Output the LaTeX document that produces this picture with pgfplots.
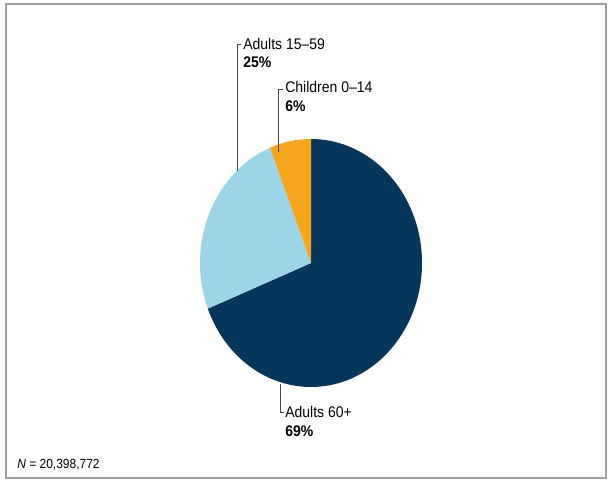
\documentclass[border=0pt]{standalone}
\usepackage{pgfplots}
\usepackage{pgfplotstable}
\pgfplotsset{compat=1.18}
\usepackage{fontspec}
\setmainfont{Liberation Sans}
\definecolor{navy}{RGB}{6,54,90}
\definecolor{lblue}{RGB}{157,212,232}
\definecolor{orng}{RGB}{245,166,30}
\definecolor{lead}{RGB}{70,70,70}
\pgfplotstableread{
label value
A60 69
A15 25
C0 6
}\piedata
\pgfplotstablegetelem{0}{value}\of\piedata \let\vA\pgfplotsretval
\pgfplotstablegetelem{1}{value}\of\piedata \let\vB\pgfplotsretval
\pgfplotstablegetelem{2}{value}\of\piedata \let\vC\pgfplotsretval
\pgfmathsetmacro\aA{90-3.6*\vA}
\pgfmathsetmacro\aB{\aA-3.6*\vB}
\pgfmathsetmacro\aC{\aB-3.6*\vC}
\newcommand{\lbl}[1]{\scalebox{1}[1.1]{\fontsize{10.5}{12}\selectfont #1}}
\begin{document}
\begin{tikzpicture}
\path[use as bounding box] (0,0) rectangle (457.5pt,366.75pt);
\begin{axis}[scale only axis, width=457.5pt, height=366.75pt,
  xmin=0, xmax=610, ymin=0, ymax=489, hide axis, clip=false]
% frame
\draw[gray!75, line width=1.5pt] (axis cs:6,485) rectangle (axis cs:606,11);
% pie slices (values from table)
\fill[navy] (axis cs:311,226) -- ++({83.25pt*cos(90)},{93pt*sin(90)})
  arc[start angle=90, end angle=\aA, x radius=83.25pt, y radius=93pt] -- cycle;
\fill[lblue] (axis cs:311,226) -- ++({83.25pt*cos(\aA)},{93pt*sin(\aA)})
  arc[start angle=\aA, end angle=\aB, x radius=83.25pt, y radius=93pt] -- cycle;
\fill[orng] (axis cs:311,226) -- ++({83.25pt*cos(\aB)},{93pt*sin(\aB)})
  arc[start angle=\aB, end angle=\aC, x radius=83.25pt, y radius=93pt] -- cycle;
% leader lines
\draw[lead, line width=0.7pt] (axis cs:237,318) -- (axis cs:237,445) -- (axis cs:241,445);
\draw[lead, line width=0.7pt] (axis cs:278,337) -- (axis cs:278,400) -- (axis cs:283,400);
\draw[lead, line width=0.7pt] (axis cs:280,105) -- (axis cs:280,77) -- (axis cs:284,77);
% labels
\node[anchor=base west, inner sep=0pt] at (axis cs:243,439) {\lbl{Adults 15–59}};
\node[anchor=base west, inner sep=0pt] at (axis cs:243,421) {\lbl{\bfseries 25\%}};
\node[anchor=base west, inner sep=0pt] at (axis cs:285,396) {\lbl{Children 0–14}};
\node[anchor=base west, inner sep=0pt] at (axis cs:285,377) {\lbl{\bfseries 6\%}};
\node[anchor=base west, inner sep=0pt] at (axis cs:285,72) {\lbl{Adults 60+}};
\node[anchor=base west, inner sep=0pt] at (axis cs:285,53) {\lbl{\bfseries 69\%}};
\node[anchor=base west, inner sep=0pt] at (axis cs:17,21) {\scalebox{1}[1.1]{\fontsize{9}{11}\selectfont \textit{N} = 20,398,772}};
\end{axis}
\end{tikzpicture}
\end{document}
